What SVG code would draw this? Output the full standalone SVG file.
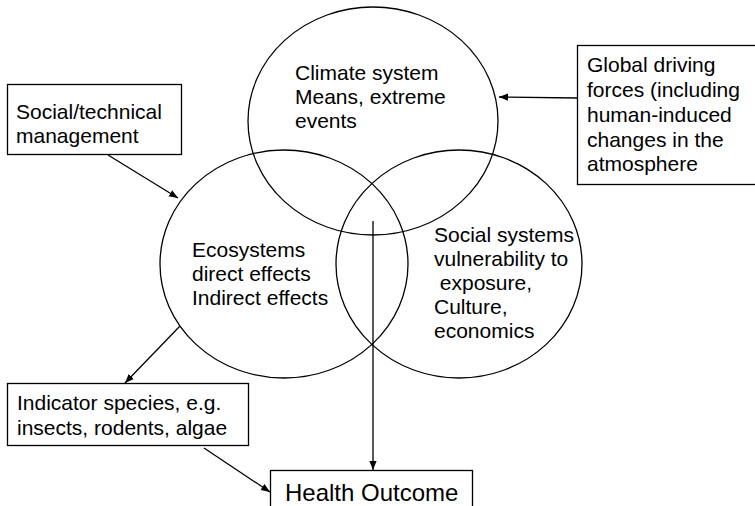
<svg xmlns="http://www.w3.org/2000/svg" width="755" height="506" viewBox="0 0 755 506">
<defs>
<style>
.sh{fill:none;stroke:#000;stroke-width:1.3}
.bx{fill:#fff;stroke:#000;stroke-width:1.3}
.t{font-family:"Liberation Sans",Arial,sans-serif;font-size:21px;fill:#000}
.big{font-size:24px}
.ln{stroke:#000;stroke-width:1.3;fill:none;marker-end:url(#ah)}
</style>
<marker id="ah" viewBox="0 0 10 10" refX="10" refY="5" markerWidth="9" markerHeight="9" markerUnits="userSpaceOnUse" orient="auto">
<path d="M0,1 L10,5 L0,9 Z" fill="#000"/>
</marker>
</defs>
<rect width="755" height="506" fill="#fff"/>
<g id="climate">
<ellipse class="sh" cx="373" cy="121" rx="125" ry="114"/>
<text class="t" x="295" y="80">Climate system</text>
<text class="t" x="295" y="104">Means, extreme</text>
<text class="t" x="295" y="128">events</text>
</g>
<g id="ecosystems">
<ellipse class="sh" cx="284" cy="264" rx="124" ry="114"/>
<text class="t" x="192" y="257">Ecosystems</text>
<text class="t" x="192" y="281">direct effects</text>
<text class="t" x="192" y="305">Indirect effects</text>
</g>
<g id="social">
<ellipse class="sh" cx="459" cy="264" rx="123" ry="114"/>
<text class="t" x="434" y="242">Social systems</text>
<text class="t" x="434" y="266">vulnerability to</text>
<text class="t" x="434" y="290" xml:space="preserve"> exposure,</text>
<text class="t" x="434" y="314">Culture,</text>
<text class="t" x="434" y="338">economics</text>
</g>
<g id="social-technical">
<rect class="bx" x="7.5" y="84.5" width="174" height="70"/>
<text class="t" x="16" y="119">Social/technical</text>
<text class="t" x="16" y="143">management</text>
</g>
<g id="global">
<rect class="bx" x="577.5" y="45.5" width="190" height="139"/>
<text class="t" x="587" y="72">Global driving</text>
<text class="t" x="587" y="97">forces (including</text>
<text class="t" x="587" y="122">human-induced</text>
<text class="t" x="587" y="147">changes in the</text>
<text class="t" x="587" y="171">atmosphere</text>
</g>
<g id="indicator">
<rect class="bx" x="7.5" y="383.5" width="241" height="62"/>
<text class="t" x="17" y="410">Indicator species, e.g.</text>
<text class="t" x="17" y="435">insects, rodents, algae</text>
</g>
<g id="health">
<rect class="bx" x="270.5" y="470.5" width="202" height="50"/>
<text class="t big" x="285" y="501">Health Outcome</text>
</g>
<g id="connectors">
<line class="ln" x1="108" y1="155" x2="178" y2="198"/>
<line class="ln" x1="577" y1="98" x2="499" y2="97"/>
<line class="ln" x1="180" y1="326" x2="125" y2="383"/>
<line class="ln" x1="373" y1="221" x2="373" y2="470"/>
<line class="ln" x1="204" y1="448" x2="270" y2="492"/>
</g>
</svg>
